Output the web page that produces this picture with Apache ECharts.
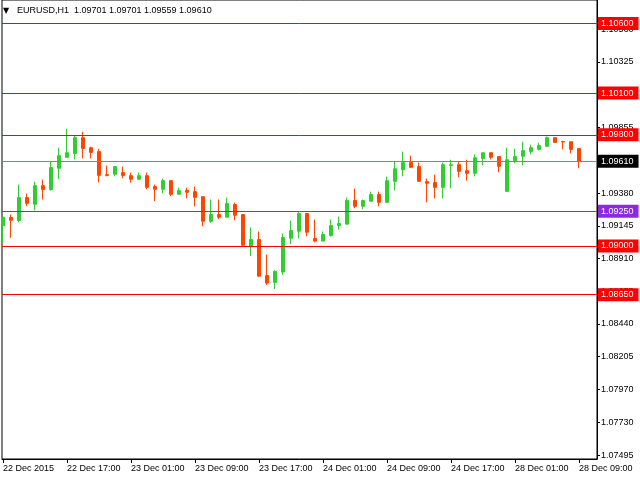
<!DOCTYPE html>
<html><head><meta charset="utf-8">
<script src="https://cdn.jsdelivr.net/npm/echarts@6.0.0/dist/echarts.min.js"></script>
<style>html,body{margin:0;padding:0;background:#fff}#c{width:640px;height:480px}</style>
</head><body><div id="c"></div>
<script>
const symbolName = 'EURUSD,H1';
const opens  = [1.09147,1.09205,1.09183,1.09348,1.09300,1.09434,1.09406,1.09559,1.09638,1.09666,
                1.09779,1.09707,1.09679,1.09513,1.09516,1.09528,1.09506,1.09480,1.09506,1.09427,
                1.09408,1.09470,1.09372,1.09401,1.09391,1.09355,1.09178,1.09226,1.09207,1.09298,
                1.09226,1.08999,1.09047,1.08788,1.08738,1.08812,1.09056,1.09106,1.09233,1.09054,
                1.09035,1.09075,1.09147,1.09157,1.09327,1.09286,1.09322,1.09370,1.09314,1.09465,
                1.09549,1.09600,1.09571,1.09463,1.09456,1.09422,1.09580,1.09585,1.09542,1.09523,
                1.09630,1.09671,1.09643,1.09393,1.09614,1.09645,1.09679,1.09695,1.09717,1.09779,
                1.09752,1.09750,1.09701];
const highs  = [1.09212,1.09226,1.09442,1.09377,1.09463,1.09477,1.09609,1.09707,1.09844,1.09793,
                1.09822,1.09714,1.09700,1.09578,1.09571,1.09571,1.09528,1.09528,1.09528,1.09442,
                1.09485,1.09470,1.09420,1.09420,1.09427,1.09355,1.09334,1.09334,1.09348,1.09312,
                1.09226,1.09133,1.09104,1.08939,1.08826,1.09090,1.09183,1.09248,1.09233,1.09190,
                1.09104,1.09190,1.09212,1.09348,1.09413,1.09334,1.09391,1.09391,1.09499,1.09609,
                1.09679,1.09650,1.09600,1.09485,1.09513,1.09600,1.09621,1.09609,1.09621,1.09659,
                1.09671,1.09671,1.09643,1.09707,1.09700,1.09750,1.09729,1.09743,1.09788,1.09779,
                1.09757,1.09750,1.09701];
const lows   = [1.09016,1.09059,1.09171,1.09286,1.09257,1.09334,1.09398,1.09480,1.09638,1.09623,
                1.09630,1.09630,1.09458,1.09501,1.09501,1.09487,1.09456,1.09480,1.09408,1.09322,
                1.09379,1.09358,1.09372,1.09343,1.09286,1.09142,1.09164,1.09192,1.09207,1.09185,
                1.08999,1.08927,1.08776,1.08719,1.08690,1.08793,1.09013,1.09056,1.09070,1.09027,
                1.09035,1.09068,1.09118,1.09157,1.09271,1.09264,1.09322,1.09286,1.09314,1.09401,
                1.09501,1.09566,1.09465,1.09314,1.09343,1.09343,1.09415,1.09494,1.09470,1.09501,
                1.09580,1.09623,1.09530,1.09393,1.09595,1.09580,1.09659,1.09688,1.09717,1.09745,
                1.09695,1.09666,1.09559];
const closes = [1.09207,1.09185,1.09348,1.09307,1.09434,1.09406,1.09564,1.09650,1.09671,1.09779,
                1.09702,1.09673,1.09508,1.09508,1.09571,1.09508,1.09480,1.09506,1.09422,1.09408,
                1.09470,1.09372,1.09398,1.09386,1.09350,1.09178,1.09226,1.09207,1.09305,1.09221,
                1.09006,1.09047,1.08783,1.08733,1.08817,1.09061,1.09111,1.09233,1.09099,1.09035,
                1.09083,1.09147,1.09162,1.09327,1.09286,1.09327,1.09370,1.09314,1.09470,1.09556,
                1.09600,1.09566,1.09465,1.09451,1.09422,1.09585,1.09585,1.09537,1.09523,1.09635,
                1.09671,1.09638,1.09573,1.09621,1.09643,1.09686,1.09707,1.09722,1.09779,1.09745,
                1.09748,1.09695,1.09610];
const xTickLabels = ['22 Dec 2015','22 Dec 17:00','23 Dec 01:00','23 Dec 09:00','23 Dec 17:00',
                     '24 Dec 01:00','24 Dec 09:00','24 Dec 17:00','28 Dec 01:00','28 Dec 09:00'];
const barsPerXTick = 8;
const yTickValues = [1.10560,1.10325,1.10090,1.09855,1.09615,1.09380,1.09145,1.08910,
                     1.08675,1.08440,1.08205,1.07970,1.07730,1.07495];
const levelValues = [1.10600,1.10100,1.09800,1.09250,1.09000,1.08650];
const levelColors = ['#FF0000','#FF0000','#FF0000','#8A2BE2','#FF0000','#FF0000'];

const FONT = "'Liberation Sans', Arial, sans-serif";
const n = opens.length;
const candleData = opens.map((o, i) => [i, o, closes[i], lows[i], highs[i]]);
const xTickPos = xTickLabels.map((_, k) => k * barsPerXTick);
const bid = closes[n - 1];
const header = symbolName + '  ' + [opens[n-1], highs[n-1], lows[n-1], closes[n-1]].map(v => v.toFixed(5)).join(' ');

const lineItems = levelValues.map((v, i) => ({
  yAxis: v,
  lineStyle: { color: levelColors[i], width: 1, type: 'solid' },
  label: { backgroundColor: levelColors[i] }
}));
lineItems.push({ yAxis: bid, lineStyle: { color: '#778899', width: 1, type: 'solid' }, label: { backgroundColor: '#000000' } });

const chart = echarts.init(document.getElementById('c'), null, { renderer: 'canvas' });
chart.setOption({
  animation: false,
  backgroundColor: '#ffffff',
  title: {
    left: 3, top: 6, padding: 0,
    text: '{tri|▼}{txt|' + header + '}',
    textStyle: {
      fontWeight: 'normal',
      rich: {
        tri: { fontSize: 8, color: '#000', width: 14, fontFamily: "'DejaVu Sans', sans-serif", fontWeight: 'normal' },
        txt: { fontSize: 9, color: '#000', fontFamily: FONT, fontWeight: 'normal' }
      }
    }
  },
  grid: { left: 2, right: 43, top: -1, bottom: 21, show: true, borderColor: '#000', borderWidth: 1, backgroundColor: 'transparent' },
  xAxis: {
    type: 'value', min: -0.125, max: 74.25,
    splitLine: { show: false },
    axisLine: { show: true, onZero: false, lineStyle: { color: '#000', width: 1 } },
    axisTick: { show: true, length: 4, lineStyle: { color: '#000' }, customValues: xTickPos },
    axisLabel: {
      customValues: xTickPos,
      formatter: v => xTickLabels[Math.round(v / barsPerXTick)] || '',
      align: 'left', margin: 5, fontSize: 9, color: '#000', fontFamily: FONT
    }
  },
  yAxis: {
    type: 'value', position: 'right', min: 1.074674, max: 1.107698, scale: true,
    splitLine: { show: false },
    axisLine: { show: true, onZero: false, lineStyle: { color: '#000', width: 1 } },
    axisTick: { show: true, length: 3, lineStyle: { color: '#000' }, customValues: yTickValues },
    axisLabel: {
      customValues: yTickValues,
      formatter: v => v.toFixed(5),
      margin: 4, fontSize: 9, color: '#000', fontFamily: FONT
    }
  },
  series: [
    {
      type: 'candlestick',
      data: candleData,
      encode: { x: 0, y: [1, 2, 3, 4] },
      barWidth: 4,
      z: 2,
      itemStyle: { color: '#32CD32', color0: '#FF4500', borderColor: '#32CD32', borderColor0: '#FF4500', borderWidth: 1 }
    },
    {
      type: 'line', data: [], z: 3,
      markLine: {
        silent: true, symbol: ['none', 'none'], animation: false, precision: 5,
        label: {
          show: true, position: 'end', distance: 1,
          formatter: p => Number(p.value).toFixed(5),
          color: '#fff', fontSize: 9, fontFamily: FONT, lineHeight: 10,
          padding: [2, 5, 1, 3]
        },
        emphasis: { disabled: true },
        data: lineItems
      }
    }
  ]
});
</script></body></html>
